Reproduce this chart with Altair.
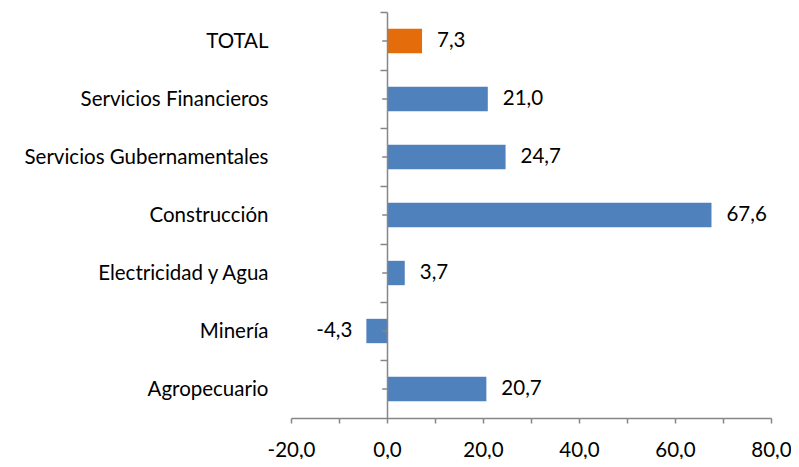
import altair as alt
import pandas as pd

categories = ["TOTAL", "Servicios Financieros", "Servicios Gubernamentales",
              "Construcción", "Electricidad y Agua", "Minería", "Agropecuario"]
values = [7.3, 21.0, 24.7, 67.6, 3.7, -4.3, 20.7]
x_ticks = list(range(-20, 81, 5))

df = pd.DataFrame({"cat": categories, "val": values})
df["label"] = [f"{v:.1f}".replace(".", ",") for v in values]

FONT = "Lato"
FS = 20.5
GRAY = "#868686"
W = 480
H = 406
STEP = H / len(categories)

xscale = alt.Scale(domain=[-20, 80], nice=False, zero=False)
yscale = alt.Scale(domain=categories, paddingInner=0.58, paddingOuter=0.29)

base = alt.Chart(df)

bars = base.mark_bar().encode(
    x=alt.X("val:Q", scale=xscale,
            axis=alt.Axis(values=x_ticks, title=None, grid=False,
                          labelExpr="datum.value % 20 == 0 ? replace(replace(format(datum.value, '.1f'), '.', ','), '\u2212', '-') : ''",
                          tickSize=5, tickColor=GRAY, domainColor=GRAY,
                          domainWidth=1.5, tickWidth=1.5,
                          labelFontSize=FS, labelFont=FONT, labelColor="#000000",
                          labelPadding=17, labelFlush=False)),
    y=alt.Y("cat:N", scale=yscale, sort=categories,
            axis=alt.Axis(title=None, offset=-W * 0.2, domainColor=GRAY, domainWidth=1.5,
                          tickColor=GRAY, tickWidth=1.5, tickSize=7,
                          tickOffset=-STEP / 2, labelOffset=STEP / 2,
                          labelPadding=112, labelFontSize=FS, labelFont=FONT, labelLimit=400,
                          labelColor="#000000", zindex=1)),
    color=alt.condition(alt.datum.cat == "TOTAL", alt.value("#E46C0A"), alt.value("#4F81BD")),
)

pos_text = base.transform_filter(alt.datum.val >= 0).mark_text(
    align="left", baseline="middle", dx=15, fontSize=FS, font=FONT, color="#000000"
).encode(x="val:Q", y=alt.Y("cat:N", sort=categories), text="label:N")

neg_text = base.transform_filter(alt.datum.val < 0).mark_text(
    align="right", baseline="middle", dx=-14, fontSize=FS, font=FONT, color="#000000"
).encode(x="val:Q", y=alt.Y("cat:N", sort=categories), text="label:N")

center_ticks = base.mark_rule(color=GRAY, strokeWidth=1.5).encode(
    x=alt.datum(0), x2=alt.datum(-1.0), y=alt.Y("cat:N", sort=categories)
)

chart = alt.layer(bars, center_ticks, pos_text, neg_text).properties(
    width=W, height=H,
    autosize=alt.AutoSizeParams(type="none"),
    padding={"left": 283, "top": 4, "right": 20, "bottom": 41},
).configure_view(stroke=None)

chart.save("out.html", embed_options={"renderer": "svg", "actions": False})
